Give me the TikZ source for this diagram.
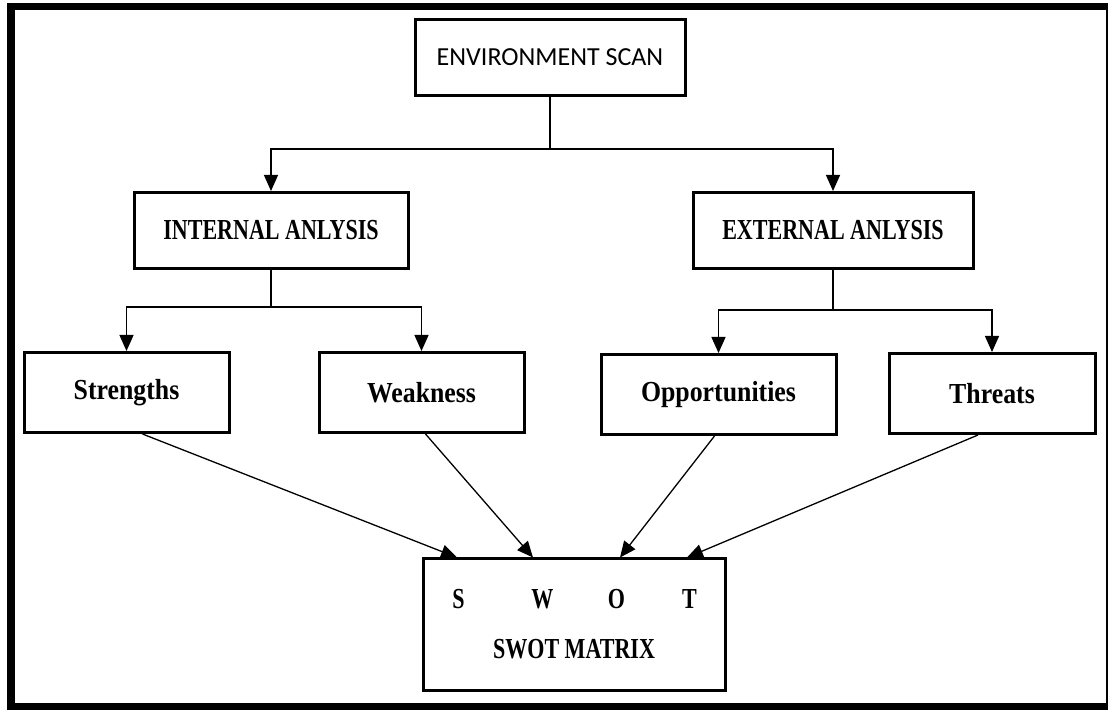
\documentclass[tikz,border=0pt]{standalone}
\usepackage{fontspec}
\setmainfont{Liberation Serif}
\newfontfamily\capsfont[FakeStretch=0.76]{Liberation Serif}
\newfontfamily\bodyfont[FakeStretch=0.89]{Liberation Serif}
\newfontfamily\scanfont{Carlito}
\usetikzlibrary{arrows.meta, positioning, calc}
\tikzset{
  blk/.style={rectangle, draw=black, line width=3pt, minimum width=205pt,
    minimum height=80pt, font=\bodyfont\fontsize{29}{33}\selectfont\bfseries, text centered},
  hdr/.style={blk, minimum height=76pt, font=\capsfont\fontsize{29}{33}\selectfont\bfseries},
  arrow/.style={-{Triangle[length=16pt,width=14pt]}, line width=1.3pt},
  conn/.style={line width=1.3pt}
}
\begin{document}
\begin{tikzpicture}[x=1pt, y=1pt]
  \useasboundingbox (0,0) rectangle (1109,710);
  % page frame
  \fill[black] (7,0) rectangle (1108,707);
  \fill[white] (15,7) rectangle (1106,700);
  % boxes
  \node[hdr, minimum width=270pt, font=\scanfont\fontsize{26}{30}\selectfont] (env) at (550,652.5) {ENVIRONMENT SCAN};
  \node[hdr, minimum width=274pt] (intl) at (271,479.5) {INTERNAL ANLYSIS};
  \node[hdr, minimum width=280pt] (extl) at (833,479.5) {EXTERNAL ANLYSIS};
  \node[blk] (str) at (126.5,317.5) {Strengths};
  \node[blk] (weak) at (421.5,317.5) {Weakness};
  \node[blk, minimum width=235pt] (opp) at (718.5,315.5) {Opportunities};
  \node[blk, minimum width=206pt] (thr) at (992,316.5) {Threats};
  \node[hdr, minimum width=302pt, minimum height=131pt, align=center,
    font=\capsfont\fontsize{29}{50}\selectfont\bfseries] (swot) at (574,85.5)
    {\makebox[0pt]{S}\hspace{84pt}\makebox[0pt]{W}\hspace{74pt}\makebox[0pt]{O}\hspace{73pt}\makebox[0pt]{T}\\SWOT MATRIX};
  % scan splits in two
  \coordinate (es) at ($(env.south)+(0,-52)$);
  \draw[conn] (env.south) -- (es);
  \draw[arrow] (es) -| (intl.north);
  \draw[arrow] (es) -| (extl.north);
  % internal side
  \coordinate (is) at ($(intl.south)+(0,-37)$);
  \draw[conn] (intl.south) -- (is);
  \draw[arrow] (is) -| (str.north);
  \draw[arrow] (is) -| (weak.north);
  % external side
  \coordinate (xs) at ($(extl.south)+(0,-40)$);
  \draw[conn] (extl.south) -- (xs);
  \draw[arrow] (xs) -| (opp.north);
  \draw[arrow] (xs) -| (thr.north);
  % into the matrix
  \draw[arrow] ([xshift=16pt]str.south) -- ([xshift=-117pt]swot.north);
  \draw[arrow] ([xshift=4pt]weak.south) -- ([xshift=-41pt]swot.north);
  \draw[arrow] ([xshift=-4pt]opp.south) -- ([xshift=46pt]swot.north);
  \draw[arrow] ([xshift=-14pt]thr.south) -- ([xshift=113pt]swot.north);
\end{tikzpicture}
\end{document}
